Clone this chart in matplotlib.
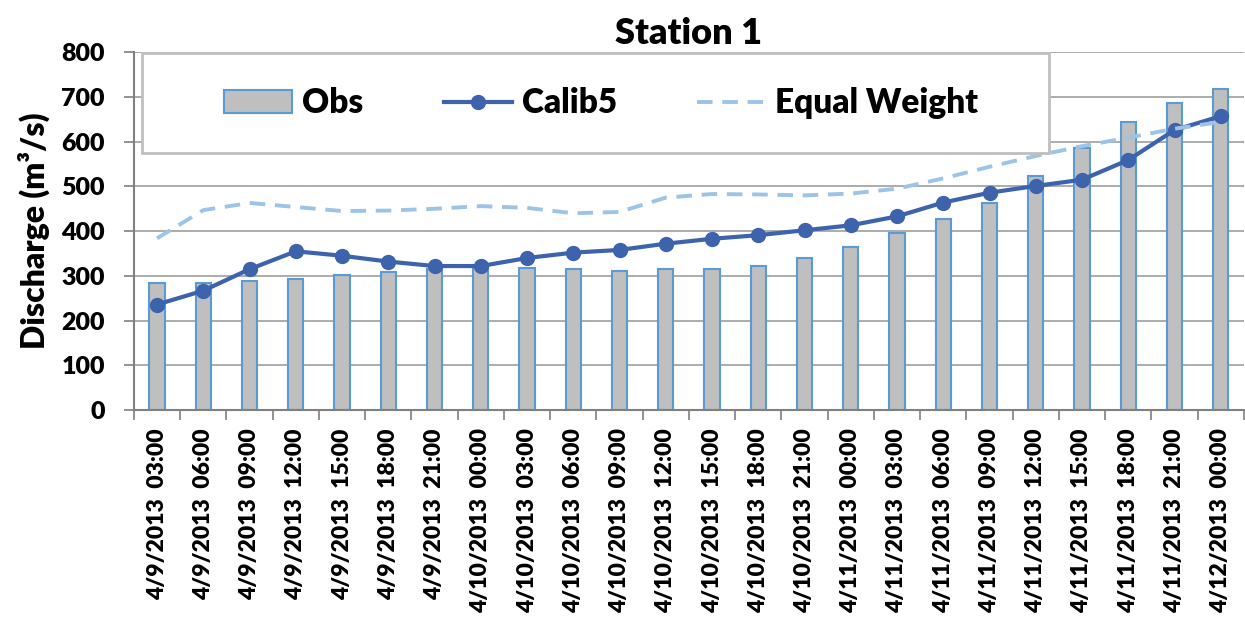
import matplotlib
matplotlib.use("Agg")
import matplotlib.pyplot as plt
from matplotlib.patches import Rectangle
import numpy as np

plt.rcParams['font.family'] = ['Lato', 'DejaVu Sans']
W = 'heavy'

labels = ["4/9/2013  03:00", "4/9/2013  06:00", "4/9/2013  09:00", "4/9/2013  12:00",
          "4/9/2013  15:00", "4/9/2013  18:00", "4/9/2013  21:00", "4/10/2013  00:00",
          "4/10/2013  03:00", "4/10/2013  06:00", "4/10/2013  09:00", "4/10/2013  12:00",
          "4/10/2013  15:00", "4/10/2013  18:00", "4/10/2013  21:00", "4/11/2013  00:00",
          "4/11/2013  03:00", "4/11/2013  06:00", "4/11/2013  09:00", "4/11/2013  12:00",
          "4/11/2013  15:00", "4/11/2013  18:00", "4/11/2013  21:00", "4/12/2013  00:00"]
obs = [285, 285, 289, 294, 302, 308, 316, 318, 317, 315, 312, 315,
       316, 322, 339, 365, 396, 427, 464, 524, 586, 644, 686, 717]
calib5 = [236, 267, 315, 355, 345, 332, 322, 322, 340, 352, 358, 372,
          383, 391, 402, 413, 433, 464, 486, 501, 515, 559, 626, 657]
equal_weight = [384, 447, 463, 454, 445, 446, 450, 456, 452, 440, 443, 475,
                483, 482, 480, 484, 495, 518, 544, 568, 590, 609, 629, 644]
yticks = [0, 100, 200, 300, 400, 500, 600, 700, 800]

fig = plt.figure(figsize=(12.45, 6.29), dpi=100)
ax = fig.add_axes([0.1076, 0.348, 0.8915, 0.569])

x = np.arange(len(labels))
h_obs = ax.bar(x, obs, width=0.33, color='#BFBFBF', edgecolor='#5B9BD5', linewidth=1.5,
               label='Obs', zorder=2)
h_cal, = ax.plot(x, calib5, color='#3C63AC', lw=3, marker='o', markersize=10,
                 label='Calib5', zorder=3)
h_eq, = ax.plot(x, equal_weight, color='#9DC3E6', lw=2.8, ls=(0, (4, 2.5)),
                label='Equal Weight', zorder=3)

ax.set_xlim(-0.5, len(labels) - 0.5)
ax.set_ylim(0, 800)
ax.set_yticks(yticks)
ax.set_yticklabels([str(v) for v in yticks], fontsize=18, fontweight=W)
ax.set_xticks(x)
ax.set_xticklabels(labels, rotation=90, fontsize=16.5, fontweight=W)
ax.tick_params(axis='x', which='major', length=0, pad=13)
ax.set_xticks(np.arange(-0.5, len(labels), 1), minor=True)
ax.tick_params(axis='x', which='minor', length=7, color='#808080', width=1.2)
ax.tick_params(axis='y', length=7, color='#808080', width=1.2, pad=14)

ax.grid(axis='y', color='#A6A6A6', lw=1.3, zorder=0)
ax.set_axisbelow(True)
for s in ['top', 'right']:
    ax.spines[s].set_visible(False)
for s in ['left', 'bottom']:
    ax.spines[s].set_color('#808080')
    ax.spines[s].set_linewidth(1.5)

ax.set_ylabel('Discharge (m³/s)', fontsize=23, fontweight=W, labelpad=8)
ax.set_title('Station 1', fontsize=26, fontweight=W, pad=6)

box = Rectangle((0.0072, 0.718), 0.8173, 0.279, transform=ax.transAxes,
                facecolor='white', edgecolor='#BFBFBF', linewidth=2, zorder=4)
ax.add_patch(box)
leg = ax.legend([h_obs, h_cal, h_eq], ['Obs', 'Calib5', 'Equal Weight'],
                loc='center', bbox_to_anchor=(0.421, 0.857), ncol=3,
                prop={'weight': W, 'size': 24}, frameon=False,
                handlelength=2.05, handletextpad=0.3, columnspacing=2.4)
leg.set_zorder(5)

fig.savefig('out.png', dpi=100)
